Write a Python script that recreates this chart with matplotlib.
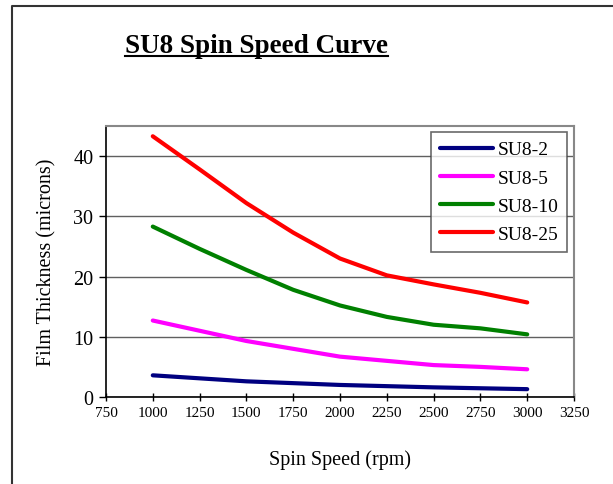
import matplotlib
matplotlib.use("Agg")
import matplotlib.pyplot as plt
from matplotlib.lines import Line2D

plt.rcParams['font.family'] = ['Liberation Serif', 'DejaVu Serif']

speed = [1000, 1250, 1500, 1750, 2000, 2250, 2500, 2750, 3000]
su8_2 = [3.6, 3.1, 2.6, 2.3, 2.0, 1.8, 1.6, 1.45, 1.3]
su8_5 = [12.7, 11.0, 9.3, 8.0, 6.7, 6.0, 5.3, 5.0, 4.6]
su8_10 = [28.3, 24.6, 21.1, 17.8, 15.2, 13.3, 12.0, 11.4, 10.4]
su8_25 = [43.3, 37.8, 32.2, 27.3, 23.0, 20.2, 18.7, 17.3, 15.7]

series = [('SU8-2', su8_2, '#000080'),
          ('SU8-5', su8_5, '#FF00FF'),
          ('SU8-10', su8_10, '#008000'),
          ('SU8-25', su8_25, '#FF0000')]

xticks = [750, 1000, 1250, 1500, 1750, 2000, 2250, 2500, 2750, 3000, 3250]
yticks = [0, 10, 20, 30, 40]

fig = plt.figure(figsize=(6.13, 4.85), dpi=100)
ax = fig.add_axes([0.1729, 0.1794, 0.7635, 0.5587])

for name, vals, col in series:
    ax.plot(speed, vals, color=col, lw=3, label=name, solid_capstyle='round')

ax.set_xlim(750, 3250)
ax.set_ylim(0, 45)
ax.set_xticks(xticks)
ax.set_yticks(yticks)
ax.tick_params(axis='x', labelsize=11, direction='inout', length=6, width=1)
ax.tick_params(axis='y', labelsize=14.5, direction='out', length=5, width=1, pad=4)
ax.grid(axis='y', color='#606060', lw=1)
ax.set_axisbelow(True)
for s in ['left', 'bottom']:
    ax.spines[s].set_color('black')
    ax.spines[s].set_linewidth(1.2)
for s in ['top', 'right']:
    ax.spines[s].set_color('#888888')
    ax.spines[s].set_linewidth(1.5)

ax.set_xlabel('Spin Speed (rpm)', fontsize=14.5, labelpad=22)
ax.set_ylabel('Film Thickness (microns)', fontsize=14.5, labelpad=12)

leg = ax.legend(loc='upper right', bbox_to_anchor=(0.985, 0.978), fontsize=14,
                frameon=True, fancybox=False, edgecolor='#444444',
                handlelength=2.7, handletextpad=0.25, labelspacing=0.55,
                borderpad=0.45, borderaxespad=0)
leg.get_frame().set_linewidth(1.2)

title = fig.text(0.418, 0.89, 'SU8 Spin Speed Curve', fontsize=19.5,
                 fontweight='bold', ha='center', va='baseline')

# underline under the title
fig.canvas.draw()
bb = title.get_window_extent().transformed(fig.transFigure.inverted())
fig.add_artist(Line2D([bb.x0, bb.x1], [0.882, 0.882], color='black', lw=1.5,
                      transform=fig.transFigure))

# chart border (left and top)
fig.add_artist(Line2D([0.0196, 0.0196, 1.0], [0.0, 0.9856, 0.9856],
                      color='#333333', lw=1.5, transform=fig.transFigure))

fig.savefig('out.png', dpi=100)
